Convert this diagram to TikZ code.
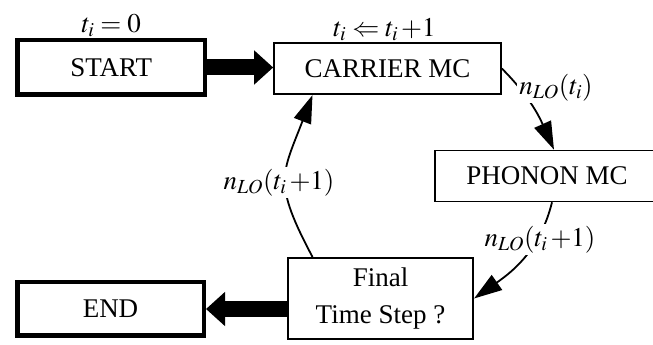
\documentclass[tikz,border=0pt]{standalone}
\usepackage{mathptmx}
\usepackage{fontspec}
\setmainfont{Liberation Serif}
\usetikzlibrary{positioning, arrows.meta}
\tikzset{
every node/.style={font=\fontsize{27}{37}\selectfont}, % Times-like text everywhere
box/.style={draw, line width=1.6pt, inner sep=0pt, align=center}, % sets the properties for each process box
termbox/.style={box, line width=4.5pt}, % the START and END boxes are framed heavier
flow/.style={-{Triangle[length=28pt, width=18pt]}, line width=1.8pt}, % thin curved arrows of the loop
bigflow/.style={-{Triangle[length=19pt, width=33pt]}, line width=16pt}, % fat arrows in and out of the loop
lbl/.style={fill=white, inner sep=2pt}, % labels that cut through the curved arrows
}

\begin{document}
\begin{tikzpicture}[x=1pt, y=1pt]
    \useasboundingbox (0,0) rectangle (653,345);
    \node[box, minimum width=227pt, minimum height=51.5pt] (carrier) at (387.5,276.5) {CARRIER MC};
    \node[termbox, minimum width=187.5pt, minimum height=54.5pt, left=66pt of carrier, yshift=1pt] (start) {START};
    \node[box, minimum width=224pt, minimum height=51pt] (phonon) at (547,169) {PHONON MC};
    \node[box, minimum width=185.5pt, minimum height=81.5pt] (final) at (380.5,46.5) {Final\\Time Step ?};
    \node[termbox, minimum width=186.5pt, minimum height=53.5pt] (end) at (110.5,36) {END};
    \node[above=1pt of start, inner sep=0pt] (t0) {$t_i = 0$};
    \node[above=1pt of carrier, inner sep=0pt, xshift=-3pt] (tinc) {$t_i \Leftarrow t_i\,{+}1$};
    \draw[bigflow] (start.east) -- (start.east -| carrier.west);
    \draw[bigflow] (end.east -| final.west) -- (end.east);
    \draw[flow] (carrier.east) to[out=-45, in=114] ([xshift=7pt]phonon.north);
    \draw[flow] ([xshift=5pt]phonon.south) to[out=256, in=35] (final.east);
    \draw[flow] ([xshift=-68pt]final.north) to[out=118, in=249, looseness=1.35] ([xshift=-75pt]carrier.south);
    \node[lbl] (ncarrier) at (556,257) {$n_{LO}(t_i)$};
    \node[lbl] (nphonon) at (540,105) {$n_{LO}(t_i\,{+}1)$};
    \node[lbl] (nfinal) at (279,162) {$n_{LO}(t_i\,{+}1)$};
\end{tikzpicture}
\end{document}
